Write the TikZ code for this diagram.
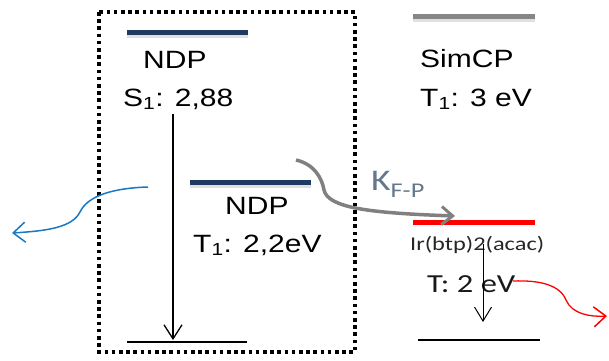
\documentclass[tikz,border=0pt]{standalone}
\usepackage{fontspec}
\usetikzlibrary{arrows.meta}
\newfontfamily\arialw[FakeStretch=1.2]{Liberation Sans}
\newfontfamily\calw[FakeStretch=1.25]{Carlito}
\definecolor{navy}{HTML}{1F3A60}
\definecolor{slate}{HTML}{65778A}
\definecolor{wave}{HTML}{1A78C2}
\tikzset{
  lvl/.style={line width=5pt},
  lvlshadow/.style={line width=6pt, black, opacity=0.12},
  ground/.style={line width=2pt, black},
  lbl/.style={inner sep=0pt, anchor=base west, font=\arialw\fontsize{25}{25}\selectfont},
  decay/.style={line width=1.3pt, -{Straight Barb[length=14pt,width=18pt,line width=1.3pt]}},
  wavy/.style={line width=1.5pt, -{Straight Barb[length=12pt,width=20pt,line width=1.5pt]}},
}
\begin{document}
\begin{tikzpicture}[x=1pt,y=-1pt]
\useasboundingbox (0,0) rectangle (609,360);

% dotted frame round the NDP levels
\draw[line width=3.6pt, dash pattern=on 3.6pt off 3.6pt] (99,12) rectangle (355,352);

% NDP singlet level
\coordinate (s1l) at (127,32); \coordinate (s1r) at (248,32);
\draw[lvlshadow] ([yshift=-2.5pt]s1l) -- ([yshift=-2.5pt]s1r);
\draw[lvl, navy] (s1l) -- (s1r);
\node[lbl] (ndp1) at (143,68) {NDP};
\node[lbl] (s1) at (123,106) {S\textsubscript{1}: 2,88};

% NDP triplet level
\coordinate (t1l) at (190,182); \coordinate (t1r) at (311,182);
\draw[lvlshadow] ([yshift=-2.5pt]t1l) -- ([yshift=-2.5pt]t1r);
\draw[lvl, navy] (t1l) -- (t1r);
\node[lbl] (ndp2) at (225,214) {NDP};
\node[lbl] (t1) at (193,252) {T\textsubscript{1}: 2,2eV};

% NDP ground state and decay
\coordinate (g1l) at (127,342); \coordinate (g1r) at (247,342);
\draw[ground] (g1l) -- (g1r);
\coordinate (a1s) at (173,114); \coordinate (a1e) at (173,340);
\draw[decay] (a1s) -- (a1e);

% blue emission leaving the NDP
\coordinate (bs) at (148,187); \coordinate (be) at (12,233);
\draw[wavy, wave] (bs) .. controls (115,188) and (88,195) .. (80,212)
  .. controls (72,228) and (45,231) .. (be);

% SimCP triplet level
\coordinate (scl) at (413,16); \coordinate (scr) at (535,16);
\draw[lvlshadow] ([yshift=-2.5pt]scl) -- ([yshift=-2.5pt]scr);
\draw[lvl, gray!95] (scl) -- (scr);
\node[lbl] (simcp) at (420,67) {SimCP};
\node[lbl] (t1s) at (420,106) {T\textsubscript{1}: 3 eV};

% Ir(btp)2(acac) triplet level
\coordinate (irl) at (413,222); \coordinate (irr) at (535,222);
\draw[lvl, red] (irl) -- (irr);
\node[inner sep=0pt, anchor=base west, font=\calw\fontsize{19.5}{19.5}\selectfont, black!85] (ir) at (410,250) {Ir(btp)2(acac)};
\node[inner sep=0pt, anchor=base west, font=\calw\fontsize{26}{26}\selectfont, black!90] (tir) at (427,292) {T: 2 eV};

% Ir ground state and decay
\coordinate (g2l) at (418,340); \coordinate (g2r) at (540,340);
\draw[ground] (g2l) -- (g2r);
\coordinate (a2s) at (483,244); \coordinate (a2e) at (483,322);
\draw[line width=1pt, -{Straight Barb[length=14pt,width=17pt,line width=1pt]}] (a2s) -- (a2e);

% red emission from the emitter
\coordinate (rs) at (513,281); \coordinate (re) at (607,316);
\draw[wavy, red, line width=1.3pt] (rs) .. controls (540,280) and (560,285) .. (566,300)
  .. controls (572,314) and (590,317) .. (re);

% energy transfer NDP -> Ir
\coordinate (ks) at (296,160); \coordinate (ke) at (455,216);
\draw[line width=3.5pt, gray, -{Straight Barb[length=11pt,width=18pt,line width=3pt]}]
  (ks) .. controls (314,164) and (322,178) .. (324,190)
  .. controls (328,208) and (370,213) .. (ke);
\node[inner sep=0pt, anchor=base west, font=\calw\fontsize{30}{30}\selectfont, slate] (k) at (371,190)
  {K\raisebox{-0.5ex}{\fontsize{21}{21}\selectfont F-P}};
\end{tikzpicture}
\end{document}
